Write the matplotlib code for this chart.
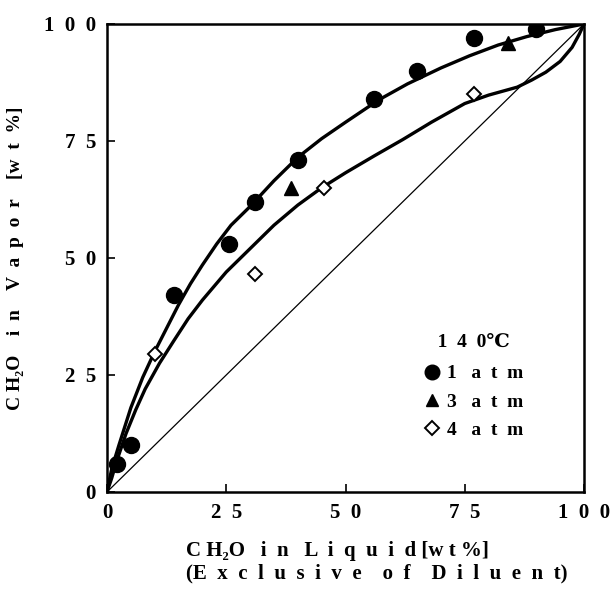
import matplotlib
matplotlib.use("Agg")
import matplotlib.pyplot as plt
from matplotlib.lines import Line2D

# measured points
liq_1atm = [2, 5, 14, 25.5, 31, 40, 56, 65, 77, 90]
vap_1atm = [6, 10, 42, 53, 62, 71, 84, 90, 97, 99]
liq_3atm = [38.5, 84]
vap_3atm = [65, 96]
liq_4atm = [10, 31, 45.5, 77]
vap_4atm = [29.5, 46.5, 65, 85]

# smoothed curves
upper_x = [0, 1, 2.5, 5, 7.5, 10, 12.5, 15, 17.5, 20, 23, 26, 30, 35, 40, 45, 50, 57, 63, 70, 76, 82, 88, 94, 100]
upper_y = [0, 5, 10, 18, 24.5, 30, 35, 40, 44.5, 48.5, 53, 57, 61, 66.5, 71.5, 75.5, 79, 83.8, 87.2, 90.6, 93.2, 95.5, 97.3, 98.8, 100]
lower_x = [0, 1, 2, 4, 6, 8, 11, 14, 17, 20, 25, 30, 35, 40, 45, 50, 56, 62, 68, 75, 80, 86, 89, 92, 95, 97.5, 99, 100]
lower_y = [0, 3, 6.5, 12.5, 17.5, 22, 27.5, 32.3, 37, 41, 47, 52, 57, 61.3, 65, 68.2, 71.8, 75.3, 79, 83, 84.8, 86.5, 88, 89.7, 92, 95, 97.8, 100]

ticks = [0, 25, 50, 75, 100]
tick_labels = ["0", "2  5", "5  0", "7  5", "1  0  0"]

serif = ["Liberation Serif", "DejaVu Serif", "Noto Sans CJK JP"]
plt.rcParams["font.family"] = serif
plt.rcParams["font.weight"] = "bold"

fig = plt.figure(figsize=(6.1, 5.89), dpi=100)
ax = fig.add_axes([0.1754, 0.1647, 0.782, 0.7946])

ax.plot([0, 100], [0, 100], color="black", lw=0.9, zorder=2)
ax.plot(upper_x, upper_y, color="black", lw=2.4, solid_capstyle="round", solid_joinstyle="round", zorder=3)
ax.plot(lower_x, lower_y, color="black", lw=2.4, solid_capstyle="round", solid_joinstyle="round", zorder=3)

ax.plot(liq_1atm, vap_1atm, "o", ms=11.5, color="black", zorder=5)
ax.plot(liq_3atm, vap_3atm, "^", ms=9.5, color="black", zorder=5)
ax.plot(liq_4atm, vap_4atm, "D", ms=7.5, mfc="white", mec="black", mew=1.4, zorder=5)

ax.set_xlim(0, 100)
ax.set_ylim(0, 100)
ax.set_xticks(ticks)
ax.set_yticks(ticks)
ax.set_xticklabels(tick_labels)
ax.set_yticklabels(tick_labels)
ax.tick_params(direction="in", length=6, width=1.2, labelsize=15, pad=8)
for s in ax.spines.values():
    s.set_linewidth(1.8)

ax.set_xlabel("C H\u2082O   i  n   L  i  q  u  i  d [w t %]\n(E  x  c  l  u  s  i  v  e    o  f    D  i  l  u  e  n  t)",
              fontsize=15, fontweight="bold", linespacing=1.15, multialignment="left")
ax.xaxis.set_label_coords(0.565, -0.105)
ax.set_ylabel("C H\u2082O    i  n    V  a  p  o  r    [w  t  %]", fontsize=14, fontweight="bold", labelpad=14)

handles = [
    Line2D([], [], ls="none", marker="o", ms=10.5, color="black"),
    Line2D([], [], ls="none", marker="^", ms=9, color="black"),
    Line2D([], [], ls="none", marker="D", ms=7, mfc="white", mec="black", mew=1.4),
]
leg = ax.legend(handles, ["1   a  t  m", "3   a  t  m", "4   a  t  m"], title="   1  4  0\u2103",
                loc="upper left", bbox_to_anchor=(0.625, 0.375), frameon=False,
                prop={"size": 14, "weight": "bold"}, title_fontproperties={"size": 14, "weight": "bold"},
                handletextpad=0.25, labelspacing=0.55, handlelength=1.0, alignment="left")
leg._legend_box.sep = 10

fig.savefig("out.png", dpi=100)
